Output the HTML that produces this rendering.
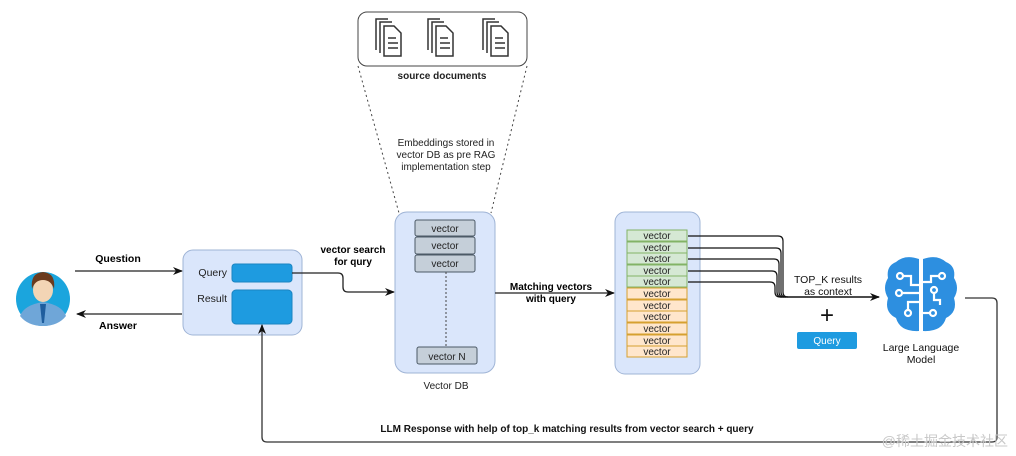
<!DOCTYPE html>
<html><head><meta charset="utf-8"><style>
html,body{margin:0;padding:0;background:#fff;}
svg{display:block;font-family:"Liberation Sans","Noto Sans CJK SC",sans-serif;}
</style></head><body>
<svg width="1016" height="456" viewBox="0 0 1016 456" xmlns="http://www.w3.org/2000/svg">
<defs>
<marker id="ar" markerWidth="10" markerHeight="10" refX="9" refY="5" orient="auto" markerUnits="userSpaceOnUse">
<path d="M0,1 L10,5 L0,9 L3,5 Z" fill="#111"/></marker>
</defs>
<rect width="1016" height="456" fill="#fff"/>

<!-- person -->
<circle cx="43" cy="299" r="27" fill="#1ba5dd"/>
<path d="M20,316 Q24,305 43,302 Q62,305 66,316 Q58,326 43,326 Q28,326 20,316Z" fill="#6fa6d8"/>
<path d="M40,304 L46,304 L44,323 L42,323Z" fill="#1f5e9e"/>
<ellipse cx="43" cy="290" rx="10" ry="12" fill="#f3d5b5"/>
<path d="M32,289 Q30,273 43,272 Q56,273 54,289 Q51,280 43,280 Q35,280 32,289Z" fill="#6b3b1e"/>

<!-- question/answer -->
<line x1="75" y1="271" x2="182" y2="271" stroke="#222" stroke-width="1.3" marker-end="url(#ar)"/>
<text x="118" y="262" font-size="10.5" font-weight="bold" text-anchor="middle">Question</text>
<line x1="182" y1="314" x2="77" y2="314" stroke="#222" stroke-width="1.3" marker-end="url(#ar)"/>
<text x="118" y="329" font-size="10.5" font-weight="bold" text-anchor="middle">Answer</text>

<!-- client box -->
<rect x="183" y="250" width="119" height="85" rx="10" fill="#dae6fb" stroke="#9fb4d6"/>
<text x="227" y="276" font-size="10.5" text-anchor="end" fill="#222">Query</text>
<rect x="232" y="264" width="60" height="18" rx="3" fill="#1e9be0" stroke="#1b84c2"/>
<text x="227" y="302" font-size="10.5" text-anchor="end" fill="#222">Result</text>
<rect x="232" y="290" width="60" height="34" rx="4" fill="#1e9be0" stroke="#1b84c2"/>

<!-- query to vector db -->
<path d="M292,273 L338,273 Q343,273 343,278 L343,287 Q343,292 348,292 L394,292" fill="none" stroke="#222" stroke-width="1.3" marker-end="url(#ar)"/>
<text x="353" y="253" font-size="10" font-weight="bold" text-anchor="middle">vector search</text>
<text x="353" y="265" font-size="10" font-weight="bold" text-anchor="middle">for qury</text>

<!-- source documents -->
<rect x="358" y="12" width="169" height="54" rx="9" fill="#fff" stroke="#444"/>
<g fill="#fff" stroke="#333" stroke-width="1.5">
<g id="doc">
<path d="M376,50 L376,19 L388,19"/>
<path d="M380,53 L380,22 L392,22"/>
<path d="M384,26 L394,26 L401,33 L401,56 L384,56 Z"/>
<path d="M388,38 L396,38 M388,43 L398,43 M388,48 L398,48"/>
</g>
<use href="#doc" x="52"/>
<use href="#doc" x="107"/>
</g>
<text x="442" y="79" font-size="10" font-weight="bold" text-anchor="middle" fill="#222">source documents</text>
<line x1="358" y1="66" x2="399" y2="213" stroke="#444" stroke-dasharray="2,3"/>
<line x1="527" y1="66" x2="491" y2="213" stroke="#444" stroke-dasharray="2,3"/>
<text x="446" y="146" font-size="10" text-anchor="middle" fill="#222">Embeddings stored in</text>
<text x="446" y="158" font-size="10" text-anchor="middle" fill="#222">vector DB as pre RAG</text>
<text x="446" y="170" font-size="10" text-anchor="middle" fill="#222">implementation step</text>

<!-- vector DB -->
<rect x="395" y="212" width="100" height="161" rx="12" fill="#dae6fb" stroke="#9fb4d6"/>
<g fill="#c5cfd9" stroke="#4c5a66">
<rect x="415" y="220" width="60" height="16" rx="2"/>
<rect x="415" y="237" width="60" height="17" rx="2"/>
<rect x="415" y="255" width="60" height="17" rx="2"/>
<rect x="417" y="347" width="60" height="17" rx="2"/>
</g>
<g font-size="10" text-anchor="middle" fill="#222">
<text x="445" y="232">vector</text>
<text x="445" y="249">vector</text>
<text x="445" y="267">vector</text>
<text x="447" y="360">vector N</text>
</g>
<line x1="446" y1="272" x2="446" y2="347" stroke="#444" stroke-dasharray="2,2"/>
<text x="446" y="389" font-size="10" text-anchor="middle" fill="#222">Vector DB</text>

<!-- matching arrow -->
<line x1="495" y1="293" x2="614" y2="293" stroke="#222" stroke-width="1.3" marker-end="url(#ar)"/>
<text x="551" y="290" font-size="10" font-weight="bold" text-anchor="middle">Matching vectors</text>
<text x="551" y="302" font-size="10" font-weight="bold" text-anchor="middle">with query</text>

<!-- right vector box -->
<rect x="615" y="212" width="85" height="162" rx="10" fill="#dae6fb" stroke="#9fb4d6"/>
<g stroke-width="1">
<g fill="#d5e8d4" stroke="#82b366">
<rect x="627" y="230" width="60" height="11"/>
<rect x="627" y="242" width="60" height="11"/>
<rect x="627" y="253" width="60" height="11"/>
<rect x="627" y="265" width="60" height="11"/>
<rect x="627" y="276" width="60" height="11"/>
</g>
<g fill="#ffe6cc" stroke="#d6a030">
<rect x="627" y="288" width="60" height="11"/>
<rect x="627" y="300" width="60" height="11"/>
<rect x="627" y="311" width="60" height="11"/>
<rect x="627" y="323" width="60" height="11"/>
<rect x="627" y="335" width="60" height="11"/>
<rect x="627" y="346" width="60" height="11"/>
</g>
</g>
<g font-size="10" text-anchor="middle" fill="#222">
<text x="657" y="239">vector</text><text x="657" y="251">vector</text><text x="657" y="262">vector</text>
<text x="657" y="274">vector</text><text x="657" y="285">vector</text>
<text x="657" y="297">vector</text><text x="657" y="309">vector</text><text x="657" y="320">vector</text>
<text x="657" y="332">vector</text><text x="657" y="344">vector</text><text x="657" y="355">vector</text>
</g>
<!-- connectors -->
<g fill="none" stroke="#111" stroke-width="1.2">
<path d="M688,236 L778,236 Q783,236 783,241 L783,292 Q783,297 788,297"/>
<path d="M688,248 L776,248 Q781,248 781,253 L781,292 Q781,297 786,297"/>
<path d="M688,259 L774,259 Q779,259 779,264 L779,292 Q779,297 784,297"/>
<path d="M688,271 L772,271 Q777,271 777,276 L777,292 Q777,297 782,297"/>
<path d="M688,282 L770,282 Q775,282 775,287 L775,292 Q775,297 780,297"/>
<line x1="780" y1="297" x2="879" y2="297" stroke-width="1.6" marker-end="url(#ar)"/>
</g>
<text x="828" y="283" font-size="10.5" text-anchor="middle" fill="#111">TOP_K results</text>
<text x="828" y="295" font-size="10.5" text-anchor="middle" fill="#111">as context</text>
<text x="827" y="323" font-size="24" text-anchor="middle" fill="#111">+</text>
<rect x="797" y="332" width="60" height="17" rx="2" fill="#1e9be0"/>
<text x="827" y="344" font-size="10" text-anchor="middle" fill="#fff">Query</text>

<!-- brain -->
<g fill="#2d8fe0">
<path d="M919,259 Q905,254 896,262 Q886,266 888,278 Q882,288 888,298 Q884,312 896,318 Q900,332 919,331 Z"/>
<path d="M923,259 Q937,254 946,262 Q956,266 954,278 Q960,288 954,298 Q958,312 946,318 Q942,332 923,331 Z"/>
</g>
<g fill="none" stroke="#fff" stroke-width="2.2">
<circle cx="900" cy="276" r="3"/><circle cx="899" cy="293" r="3"/><circle cx="908" cy="313" r="3"/>
<circle cx="942" cy="276" r="3"/><circle cx="934" cy="290" r="3"/><circle cx="933" cy="313" r="3"/>
<path d="M903,276 L911,276 L911,285 L919,285"/><path d="M902,293 L919,293"/><path d="M908,310 L908,302 L919,302"/>
<path d="M939,276 L931,276 L931,282 L923,282"/><path d="M934,293 L934,300 L940,300 L940,305"/><path d="M930,313 L923,313"/>
</g>
<text x="921" y="351" font-size="10.5" text-anchor="middle" fill="#111">Large Language</text>
<text x="921" y="363" font-size="10.5" text-anchor="middle" fill="#111">Model</text>

<!-- return path -->
<path d="M965,298 L992,298 Q997,298 997,303 L997,437 Q997,442 992,442 L267,442 Q262,442 262,437 L262,325" fill="none" stroke="#333" stroke-width="1.3" marker-end="url(#ar)"/>
<text x="567" y="432" font-size="10" font-weight="bold" text-anchor="middle" fill="#111">LLM Response with help of top_k matching results from vector search + query</text>

<text x="1008" y="446" font-size="14" text-anchor="end" fill="#c8c8c8">@稀土掘金技术社区</text>
</svg>
</body></html>
